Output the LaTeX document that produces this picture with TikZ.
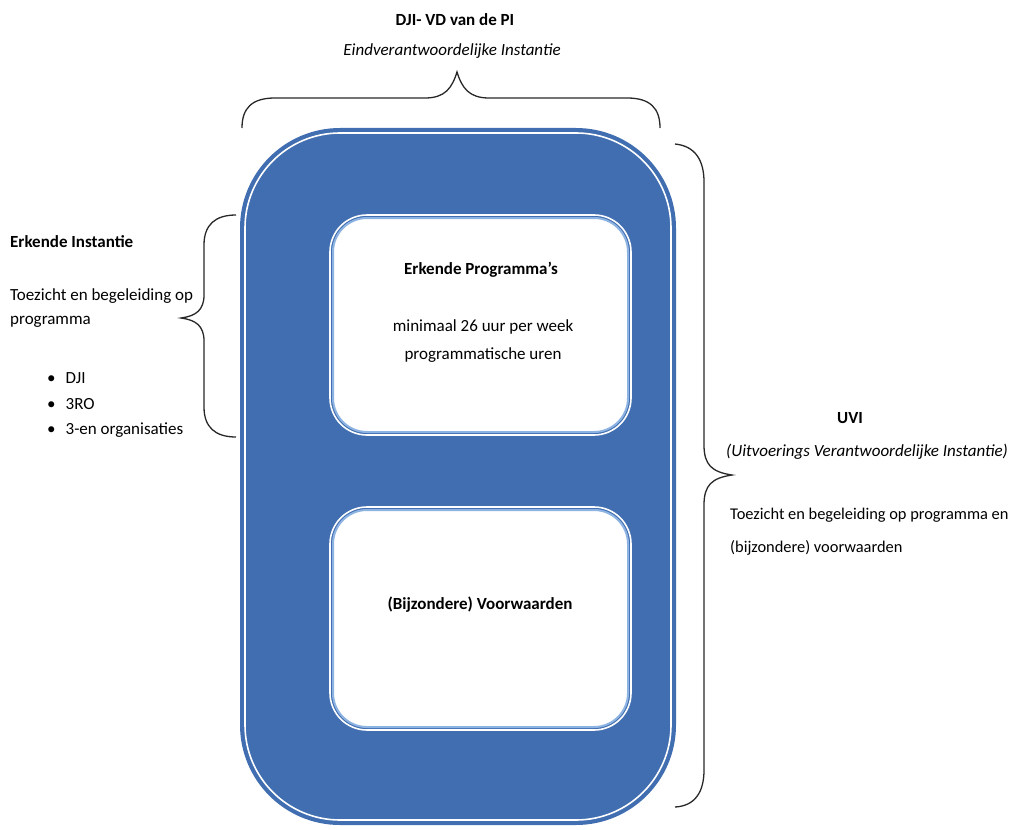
\documentclass[tikz,border=0pt]{standalone}
\usepackage{fontspec}
\setmainfont{Carlito}
\definecolor{boxblue}{RGB}{64,110,176}
\definecolor{lineblue}{RGB}{141,179,226}
\definecolor{bracegray}{RGB}{40,40,40}
\tikzset{
  txt/.style={font=\fontsize{17}{20}\selectfont, inner sep=0pt, text=black},
  stxt/.style={font=\fontsize{16.4}{20}\selectfont, inner sep=0pt, text=black},
  btxt/.style={txt, font=\fontsize{17}{20}\selectfont\bfseries},
  itxt/.style={txt, font=\fontsize{17}{20}\selectfont\itshape},
  brace/.style={draw=bracegray, line width=1.3pt},
  innerbox/.style={fill=white, draw=lineblue, line width=2pt, rounded corners=34pt},
  innerglow/.style={draw=white, line width=1.6pt, rounded corners=37pt},
}
\begin{document}
\begin{tikzpicture}[x=1pt,y=-1pt]
\useasboundingbox (0,0) rectangle (1016,829);
% outer blue frame
\fill[boxblue, rounded corners=100pt] (240,128) rectangle (676,825);
\draw[white, line width=1.6pt, rounded corners=95pt] (245,133) rectangle (671,820);
% inner boxes
\draw[innerglow] (330,215) rectangle (631,435);
\draw[innerbox] (333,218) rectangle (628,432);
\draw[innerglow] (330,507) rectangle (631,730);
\draw[innerbox] (333,510) rectangle (628,727);
% inner box texts
\node[btxt] (ep) at (481,270) {Erkende Programma’s};
\node[txt] (ep1) at (483,327) {minimaal 26 uur per week};
\node[txt] (ep2) at (483,355) {programmatische uren};
\node[btxt] (bv) at (480,605) {(Bijzondere) Voorwaarden};
% top brace
\draw[brace] (242,128) .. controls (242,108) and (252,98) .. (275,98)
  -- (425,98) .. controls (445,98) and (452,88) .. (457,72)
  .. controls (462,88) and (469,98) .. (489,98)
  -- (627,98) .. controls (650,98) and (660,108) .. (660,128);
\node[btxt] (top1) at (455,20) {DJI- VD van de PI};
\node[itxt] (top2) at (452,51) {Eindverantwoordelijke Instantie};
% left brace
\draw[brace] (236,215) .. controls (215,215) and (204,225) .. (204,245)
  -- (204,295) .. controls (204,310) and (196,316) .. (181,318)
  .. controls (196,320) and (204,326) .. (204,341)
  -- (204,407) .. controls (204,427) and (215,437) .. (236,437);
\node[btxt, anchor=west] (ei) at (10,242) {Erkende Instantie};
\node[txt, anchor=west] (ei1) at (10,296) {Toezicht en begeleiding op};
\node[txt, anchor=west] (ei2) at (10,322) {programma};
\node[txt, anchor=west] (b1) at (47,378) {•\hspace{10pt}DJI};
\node[txt, anchor=west] (b2) at (47,404) {•\hspace{10pt}3RO};
\node[txt, anchor=west] (b3) at (47,430) {•\hspace{10pt}3-en organisaties};
% right brace
\draw[brace] (675,144) .. controls (695,146) and (704,160) .. (704,182)
  -- (704,445) .. controls (704,465) and (712,472) .. (732,475)
  .. controls (712,478) and (704,485) .. (704,505)
  -- (704,770) .. controls (704,792) and (695,806) .. (675,807);
\node[btxt] (uvi) at (850,418) {UVI};
\node[itxt, anchor=west] (uvi1) at (726,452) {(Uitvoerings Verantwoordelijke Instantie)};
\node[stxt, anchor=west] (uvi2) at (730,515) {Toezicht en begeleiding op programma en};
\node[stxt, anchor=west] (uvi3) at (730,548) {(bijzondere) voorwaarden};
\end{tikzpicture}
\end{document}
